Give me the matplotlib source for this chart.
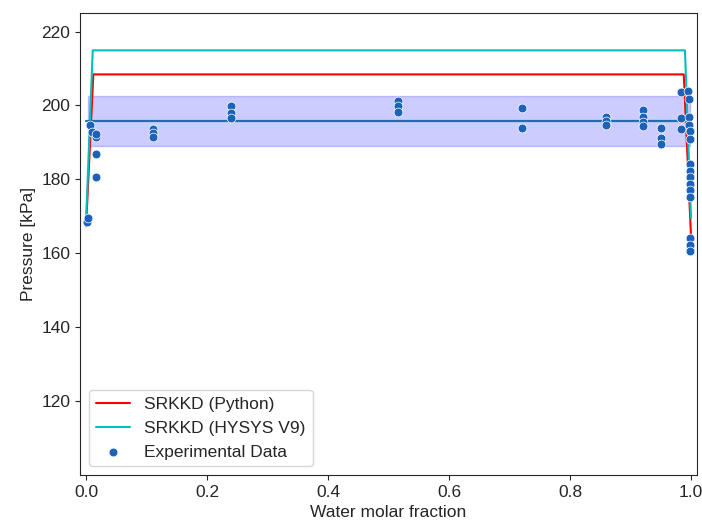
import numpy as np
import matplotlib
matplotlib.use("Agg")
import matplotlib.pyplot as plt
import seaborn as sns

sns.set_style("ticks")
plt.rcParams["font.family"] = ["Liberation Sans", "DejaVu Sans"]
plt.rcParams["font.size"] = 12.5

# model curves (water molar fraction vs. bubble pressure, kPa)
x_python = [0.0, 0.012, 0.988, 1.0]
p_python = [167.3, 208.4, 208.4, 164.5]

x_hysys = [0.0, 0.011, 0.990, 1.0]
p_hysys = [169.0, 214.9, 214.9, 169.5]

# experimental points
x_exp = [0.002, 0.003, 0.007, 0.009, 0.016, 0.016, 0.016, 0.016,
         0.110, 0.110, 0.110,
         0.240, 0.240, 0.240,
         0.515, 0.515, 0.515,
         0.720, 0.720,
         0.860, 0.860, 0.860,
         0.920, 0.920, 0.920, 0.920,
         0.950, 0.950, 0.950,
         0.983, 0.983, 0.983,
         0.995, 0.996, 0.997, 0.997, 0.998, 0.998,
         0.998, 0.999, 0.999, 0.999, 0.999, 0.999,
         0.999, 0.999, 0.999]
p_exp = [168.5, 169.5, 194.7, 192.9, 191.5, 192.2, 186.8, 180.7,
         193.5, 192.5, 191.6,
         199.9, 198.0, 196.6,
         201.3, 199.9, 198.2,
         199.3, 193.8,
         196.9, 195.8, 194.6,
         198.7, 196.9, 195.6, 194.4,
         193.8, 191.1, 189.7,
         203.6, 196.7, 193.5,
         204.0, 201.8, 196.9, 194.6, 193.0, 191.0,
         184.2, 182.4, 180.6, 178.8, 177.0, 175.3,
         164.1, 162.3, 160.5]

# mean and spread of the measured pressure
p_mean = 195.8
p_std = 6.75

fig, ax = plt.subplots(figsize=(7.02, 5.21), dpi=100)
fig.subplots_adjust(left=0.114, right=0.993, top=0.975, bottom=0.088)

ax.plot(x_python, p_python, color="r", label="SRKKD (Python)")
ax.plot(x_hysys, p_hysys, color="c", label="SRKKD (HYSYS V9)")
sns.scatterplot(x=x_exp, y=p_exp, ax=ax, color="#1c62b9", s=40,
                label="Experimental Data", zorder=3)

band_x = np.array([0.003, 0.999])
ax.plot([0.0, 0.993], [p_mean, p_mean], color="#1f6fa8", lw=1.6)
ax.fill_between(band_x, p_mean - p_std, p_mean + p_std, color="blue", alpha=0.2)

ax.set_xlim(-0.01, 1.01)
ax.set_ylim(100, 225)
ax.set_xticks(np.arange(0, 1.01, 0.2))
ax.set_yticks(np.arange(120, 221, 20))
ax.set_xlabel("Water molar fraction")
ax.set_ylabel("Pressure [kPa]")
ax.legend(loc="lower left")

fig.savefig("out.png", dpi=100)
